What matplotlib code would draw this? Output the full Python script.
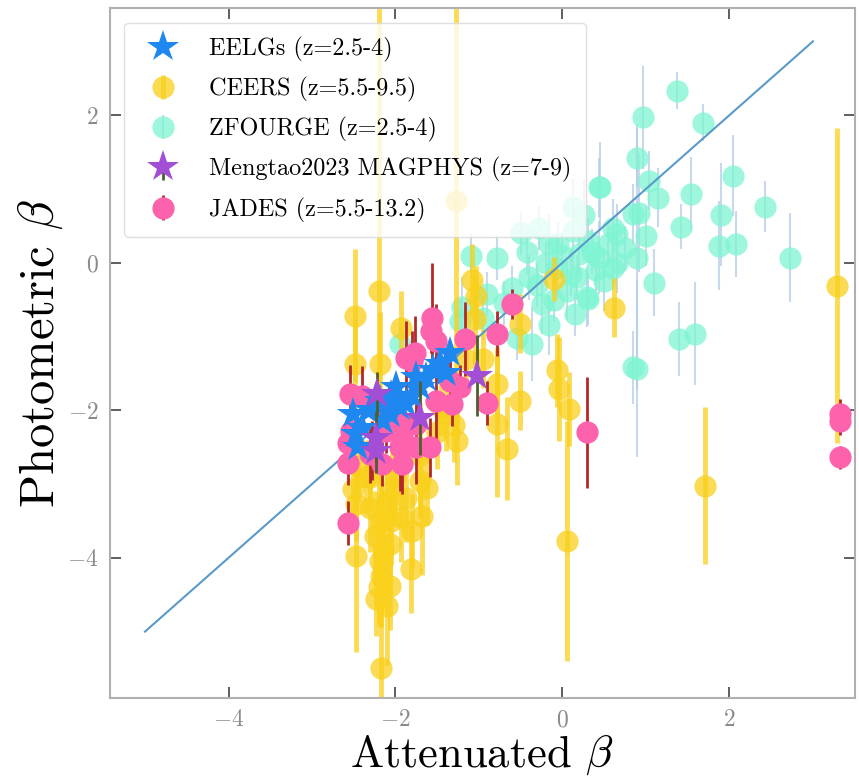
import numpy as np
import matplotlib
matplotlib.use("Agg")
import matplotlib.pyplot as plt

plt.rcParams['font.family'] = 'serif'
plt.rcParams['font.serif'] = ['cmr10']
plt.rcParams['mathtext.fontset'] = 'cm'
plt.rcParams['axes.formatter.use_mathtext'] = True

# CEERS (z=5.5-9.5): attenuated beta, photometric beta, error
ceers_x = [-2.20, -1.28, -2.49, -2.49, -1.93, -1.08, -1.03, -1.05, -0.51, -0.10,
           0.62, -0.07, -0.04, 0.08, -0.51, -0.66, -0.79, -0.79, 0.06, 1.71,
           3.29, -2.47, -2.17, -1.81, -1.68, -2.07, -2.23, -2.19, -2.07, -2.31,
           -2.04, -2.17, -2.47, -1.80, -1.87, -1.26, -1.71, -2.51, -2.17, -2.10,
           -2.19, -1.71, -1.50, -2.35, -2.45, -1.45, -1.15, -0.95, -2.00, -1.93,
           -1.62, -1.40, -1.30, -2.25, -2.15, -2.20, -2.05, -2.30, -2.10]
ceers_y = [-0.38, 0.84, -0.72, -1.37, -0.88, -0.24, -0.45, -0.76, -0.83, -0.22,
           -0.61, -1.46, -1.71, -1.98, -1.87, -2.52, -2.18, -1.64, -3.77, -3.02,
           -0.31, -3.97, -5.50, -4.15, -3.43, -4.38, -4.56, -4.04, -3.81, -3.32,
           -3.05, -3.50, -3.27, -3.63, -3.19, -2.41, -2.96, -3.07, -4.24, -4.65,
           -1.37, -2.60, -2.30, -2.90, -2.75, -1.95, -1.30, -1.30, -2.90, -3.45,
           -3.05, -2.05, -2.20, -3.70, -3.90, -4.40, -3.50, -2.90, -3.25]
ceers_err = [4.0, 3.2, 0.9, 0.6, 0.5, 0.5, 0.4, 0.6, 0.4, 0.3,
             0.4, 0.5, 0.7, 0.5, 0.4, 0.7, 1.0, 0.5, 1.63, 1.07,
             2.13, 1.3, 1.6, 0.6, 0.8, 0.6, 0.5, 0.9, 0.7, 0.6,
             0.5, 0.7, 0.5, 0.5, 0.6, 0.6, 0.5, 0.4, 0.7, 0.8,
             0.7, 0.7, 0.5, 0.5, 0.5, 0.4, 0.3, 0.4, 0.6, 0.6,
             0.5, 0.5, 0.5, 0.6, 0.8, 0.5, 0.6, 0.4, 0.5]

# ZFOURGE (z=2.5-4)
zf_x = [1.37, 0.97, 1.68, 0.89, 1.04, 1.14, 0.45, 1.54, 2.04, 0.92,
        1.90, 2.43, 1.42, 1.00, 1.88, 2.08, 2.72, 0.89, 1.10, 1.40,
        1.59, 0.89, 0.30, 0.65, 0.60, 0.26, 0.12, -0.16, -1.09, -0.78,
        -0.43, -0.28, 0.12, 0.44, 0.84, -0.16, 0.20, 0.44, 0.65, 0.60,
        0.17, 0.29, 0.05, -0.24, -0.40, -0.60, -0.36, -0.55, -0.91, -1.23,
        0.84, -0.07, 0.35, 0.50, 0.00, -0.20, 0.75, 0.30, -0.50, -1.20,
        -0.95, -0.70, 0.15, -0.05, 0.55, -1.95, -0.30, 0.10, 0.40, -0.10]
zf_y = [2.33, 1.97, 1.90, 1.42, 1.11, 0.88, 1.03, 0.93, 1.18, 0.68,
        0.65, 0.76, 0.49, 0.36, 0.23, 0.25, 0.07, 0.07, -0.27, -1.03,
        -0.96, -1.44, -0.49, -0.01, 0.47, 0.64, 0.75, -0.85, 0.09, 0.07,
        0.14, 0.47, 0.43, 1.02, 0.66, 0.26, 0.12, 0.07, 0.39, -0.07,
        -0.20, -0.47, -0.38, -0.56, -0.20, -0.34, -1.10, -1.02, -0.42, -0.79,
        -1.42, -0.07, 0.15, -0.25, 0.10, 0.00, 0.20, 0.30, 0.40, -0.60,
        -0.75, -0.55, -0.70, 0.25, 0.25, -1.10, -0.30, -0.15, -0.10, -0.50]
zf_err = [0.25, 0.7, 0.25, 0.4, 0.4, 0.4, 0.6, 0.5, 0.55, 0.8,
          0.7, 0.35, 0.3, 0.4, 0.6, 0.45, 0.6, 1.8, 0.45, 0.5,
          0.7, 1.2, 0.35, 0.4, 0.4, 0.5, 0.4, 0.4, 0.3, 0.3,
          0.3, 0.3, 0.5, 0.4, 0.4, 0.4, 0.3, 0.5, 0.4, 0.3,
          0.3, 0.4, 0.4, 0.4, 0.3, 0.3, 0.5, 0.3, 0.3, 0.3,
          0.5, 0.4, 0.3, 0.4, 0.3, 0.3, 0.3, 0.3, 0.3, 0.4,
          0.3, 0.3, 0.3, 0.3, 0.3, 0.3, 0.3, 0.3, 0.3, 0.3]

# EELGs (z=2.5-4)
eelg_x = [-2.51, -2.47, -2.19, -1.99, -1.87, -1.63, -1.47, -1.35, -1.71, -2.07,
          -2.40, -2.05, -1.80, -2.30, -1.55, -2.45, -1.95, -2.15, -1.40, -1.75]
eelg_y = [-2.05, -2.32, -1.87, -1.69, -1.91, -1.56, -1.37, -1.23, -1.69, -2.05,
          -2.24, -1.80, -1.80, -2.00, -1.45, -2.50, -1.95, -2.15, -1.50, -1.55]

# Mengtao2023 MAGPHYS (z=7-9)
meng_x = [-2.22, -2.23, -1.71, -1.02, -2.23]
meng_y = [-1.78, -2.37, -2.10, -1.53, -2.55]
meng_err = [0.3, 0.35, 0.5, 0.55, 0.3]

# JADES (z=5.5-13.2)
jades_x = [-2.57, -2.55, -2.57, -2.57, -2.53, -1.56, -1.57, -1.17, -0.78, -0.60,
           -1.77, -0.90, -1.51, -1.35, -1.80, -1.92, -1.75, -2.16, -2.28, -1.99,
           -1.95, -1.59, -1.87, -1.51, -1.23, -1.32, -1.75, -2.11, -2.31, -1.92,
           0.29, 3.32, 3.32, 3.32, -2.40, -2.20]
jades_y = [-3.53, -1.78, -2.45, -2.71, -2.28, -0.75, -0.92, -1.03, -0.96, -0.56,
           -1.22, -1.90, -1.87, -1.60, -1.33, -2.32, -2.50, -2.73, -2.55, -2.10,
           -2.50, -2.50, -1.29, -1.06, -1.69, -1.91, -2.18, -2.28, -2.59, -2.73,
           -2.30, -2.05, -2.14, -2.64, -1.80, -2.00]
jades_err = [0.3, 0.4, 0.4, 0.3, 0.3, 0.75, 0.3, 0.5, 0.3, 0.2,
             0.5, 0.3, 0.6, 0.4, 0.4, 0.5, 0.5, 0.3, 0.4, 0.4,
             0.6, 0.4, 0.5, 0.5, 0.3, 0.3, 0.3, 0.3, 0.4, 0.4,
             0.75, 0.2, 0.2, 0.15, 0.4, 0.3]

one_to_one = [-5, 3]

fig = plt.figure(figsize=(8.59, 7.76), dpi=100)
ax = fig.add_axes([0.128, 0.1005, 0.867, 0.889])

ax.errorbar(eelg_x, eelg_y, fmt='*', color='#1e88f0', ms=24, mew=0,
            zorder=5, label='EELGs (z=2.5-4)')
ax.errorbar(ceers_x, ceers_y, yerr=ceers_err, fmt='o', color='#f9d01a',
            ecolor='#f9d01a', ms=16, mew=0, elinewidth=3.5, alpha=0.75,
            zorder=2, label='CEERS (z=5.5-9.5)')
ax.errorbar(zf_x, zf_y, yerr=zf_err, fmt='o', color='#7ef5d2',
            ecolor='#b5cde8', ms=16, mew=0, elinewidth=1.5, alpha=0.75,
            zorder=1, label='ZFOURGE (z=2.5-4)')
ax.errorbar(meng_x, meng_y, yerr=meng_err, fmt='*', color='#a24fd6',
            ecolor='#4f5e2a', ms=24, mew=0, elinewidth=2,
            zorder=6, label='Mengtao2023 MAGPHYS (z=7-9)')
ax.errorbar(jades_x, jades_y, yerr=jades_err, fmt='o', color='#fd62ad',
            ecolor='#b3282a', ms=16, mew=0, elinewidth=2,
            zorder=4, label='JADES (z=5.5-13.2)')

ax.plot(one_to_one, one_to_one, color='#5a9ac8', lw=1.5, zorder=3)

ax.set_xlim(-5.42, 3.5)
ax.set_ylim(-5.9, 3.45)
ax.set_xticks([-4, -2, 0, 2])
ax.set_yticks([-4, -2, 0, 2])

ax.set_xlabel(r'Attenuated $\beta$', fontsize=32, labelpad=2)
ax.set_ylabel(r'Photometric $\beta$', fontsize=35, labelpad=2)

ax.tick_params(direction='in', length=8, width=1.2, color='#444444',
               labelcolor='#8a8a8a', labelsize=17, top=True, right=True, pad=8)
for sp in ax.spines.values():
    sp.set_color('#b0b0b0')
    sp.set_linewidth(1.5)

leg = ax.legend(loc='upper left', fontsize=17.4, frameon=True, framealpha=0.8,
                edgecolor='#d8d8d8', borderpad=0.6, labelspacing=0.62,
                handletextpad=0.9, borderaxespad=0.6)

fig.savefig('out.png', dpi=100)
